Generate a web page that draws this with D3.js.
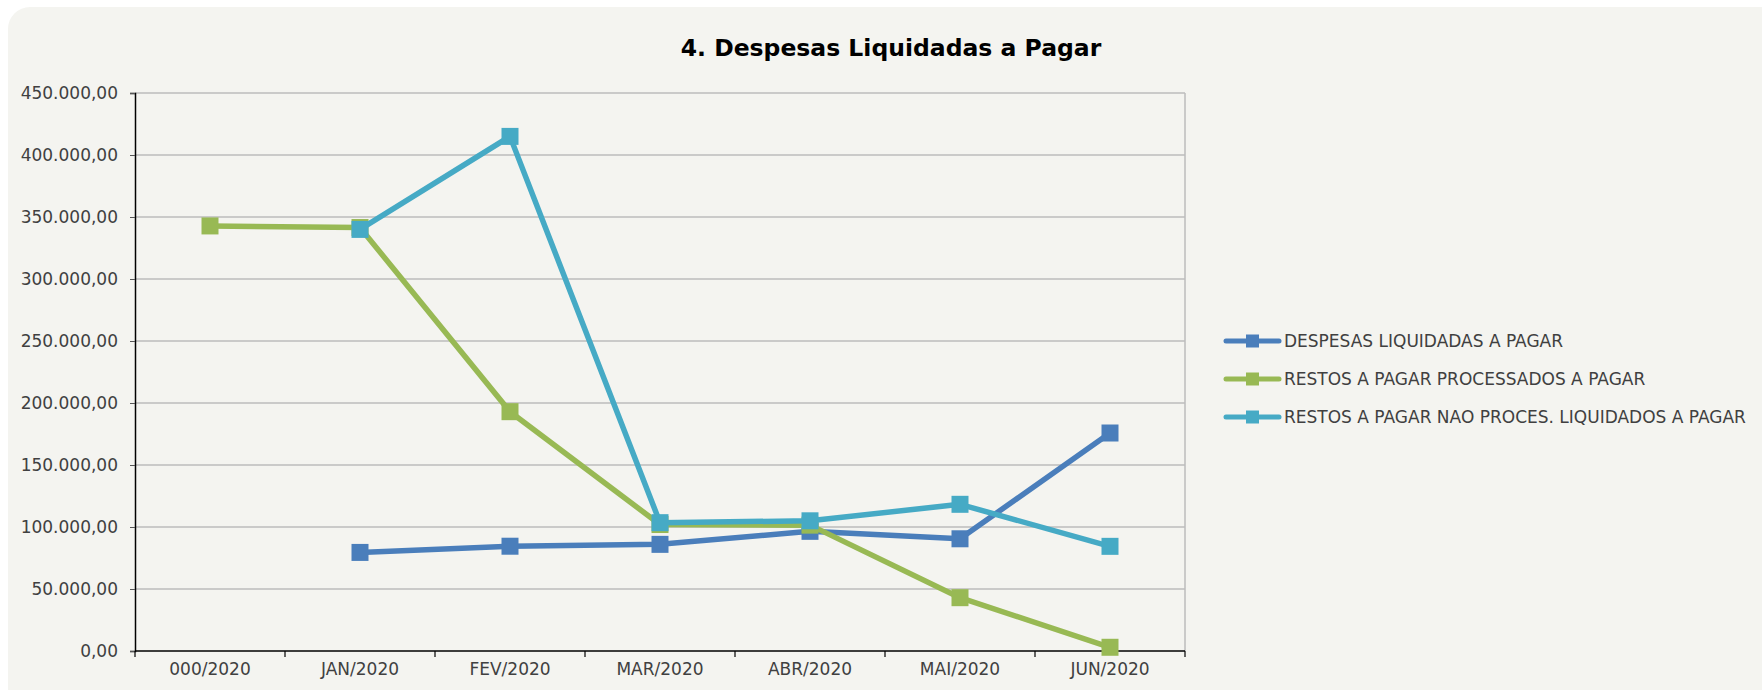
<!DOCTYPE html>
<html><head><meta charset="utf-8">
<script src="https://cdn.jsdelivr.net/npm/d3@7"></script>
<style>html,body{margin:0;padding:0;background:#fff;}svg{display:block;}</style>
</head><body>
<script>
const categories = ["000/2020","JAN/2020","FEV/2020","MAR/2020","ABR/2020","MAI/2020","JUN/2020"];
const seriesNames = ["DESPESAS LIQUIDADAS A PAGAR","RESTOS A PAGAR PROCESSADOS A PAGAR","RESTOS A PAGAR NAO PROCES. LIQUIDADOS A PAGAR"];
const despesasLiquidadas = [null, 79500, 84500, 86000, 96500, 90500, 175800];
const restosProcessados = [342800, 341500, 193000, 102000, 101500, 43000, 3000];
const restosNaoProcessados = [null, 340000, 415000, 103500, 105000, 118300, 84400];
const yTicks = [0,50000,100000,150000,200000,250000,300000,350000,400000,450000];
const colors = ["#4a7ebb","#98b954","#46aac5"];
const title = "4. Despesas Liquidadas a Pagar";

const W = 1762, H = 690;
const svg = d3.select("body").append("svg").attr("width", W).attr("height", H);
svg.append("rect").attr("x",8).attr("y",7).attr("width",1790).attr("height",720).attr("rx",22).attr("fill","#f4f4f0");

const pL = 135, pR = 1185, pT = 93, pB = 651;
const x = d3.scaleBand().domain(categories).range([pL,pR]);
const y = d3.scaleLinear().domain([0,450000]).range([pB,pT]);
const fmt = v => d3.format(",.2f")(v).replace(/,/g,"#").replace(/\./g,",").replace(/#/g,".");
const font = "DejaVu Sans";

// gridlines
svg.append("g").selectAll("line").data(yTicks.filter(d=>d>0)).join("line")
  .attr("x1",pL).attr("x2",pR).attr("y1",d=>y(d)).attr("y2",d=>y(d))
  .attr("stroke","#bcbcbc").attr("stroke-width",1.5);
svg.append("line").attr("x1",pR).attr("x2",pR).attr("y1",pT).attr("y2",pB)
  .attr("stroke","#bcbcbc").attr("stroke-width",1.5);

// y axis
const yAx = svg.append("g").attr("transform",`translate(${pL},0)`)
  .call(d3.axisLeft(y).tickValues(yTicks).tickFormat(fmt).tickSize(5).tickPadding(12));
yAx.select(".domain").attr("stroke","#000").attr("stroke-width",1.5);
yAx.selectAll(".tick line").attr("stroke","#555");
yAx.selectAll("text").attr("font-family",font).attr("font-size","17px").attr("fill","#404040");

// x axis
const xAx = svg.append("g").attr("transform",`translate(0,${pB})`)
  .call(d3.axisBottom(x).tickSize(0).tickPadding(12));
xAx.select(".domain").remove();
xAx.selectAll("text").attr("font-family",font).attr("font-size","17px").attr("fill","#404040");
svg.append("line").attr("x1",pL).attr("x2",pR).attr("y1",pB).attr("y2",pB).attr("stroke","#000").attr("stroke-width",1.5);
const bounds = categories.map(c=>x(c)).concat([pR]);
svg.append("g").selectAll("line").data(bounds).join("line")
  .attr("x1",d=>d).attr("x2",d=>d).attr("y1",pB).attr("y2",pB+6).attr("stroke","#000").attr("stroke-width",1.2);

// series
const allSeries = [despesasLiquidadas, restosProcessados, restosNaoProcessados];
const line = d3.line().defined(d=>d.v!=null).x(d=>x(d.c)+x.bandwidth()/2).y(d=>y(d.v));
const ms = 17;
allSeries.forEach((vals,i)=>{
  const pts = categories.map((c,j)=>({c, v: vals[j]}));
  svg.append("path").datum(pts).attr("d",line).attr("fill","none")
    .attr("stroke",colors[i]).attr("stroke-width",5.5).attr("stroke-linejoin","round");
  svg.append("g").selectAll("rect").data(pts.filter(d=>d.v!=null)).join("rect")
    .attr("x",d=>x(d.c)+x.bandwidth()/2-ms/2).attr("y",d=>y(d.v)-ms/2)
    .attr("width",ms).attr("height",ms).attr("fill",colors[i]);
});

// legend
const lg = svg.append("g");
seriesNames.forEach((n,i)=>{
  const ly = 341 + i*38;
  lg.append("line").attr("x1",1226).attr("x2",1279).attr("y1",ly).attr("y2",ly)
    .attr("stroke",colors[i]).attr("stroke-width",5).attr("stroke-linecap","round");
  lg.append("rect").attr("x",1246).attr("y",ly-6.5).attr("width",13).attr("height",13).attr("fill",colors[i]);
  lg.append("text").attr("x",1284).attr("y",ly).attr("dy","0.36em")
    .attr("font-family",font).attr("font-size","17px").attr("fill","#404040").text(n);
});

// title
svg.append("text").attr("x",891).attr("y",56).attr("text-anchor","middle")
  .attr("font-family",font).attr("font-weight","bold").attr("font-size","23.5px").attr("fill","#000").text(title);
</script>
</body></html>
